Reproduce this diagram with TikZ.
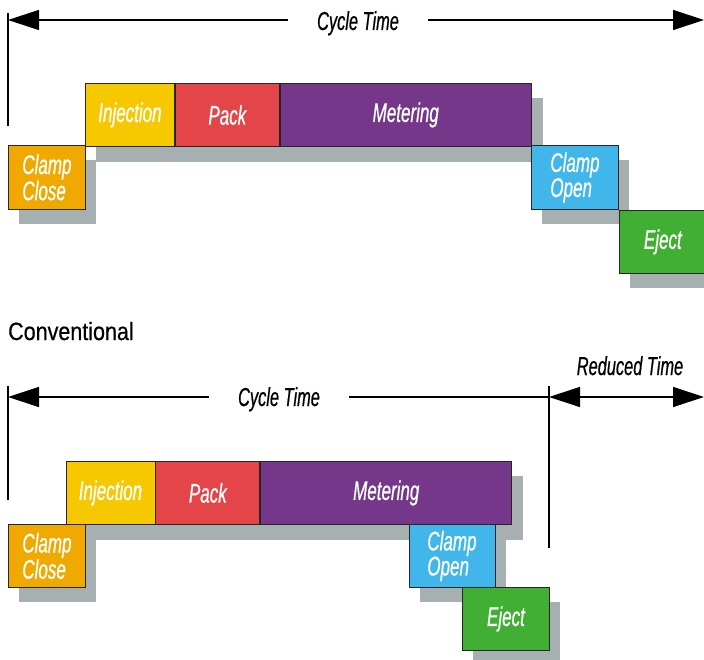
\documentclass[tikz,border=0pt]{standalone}
\usepackage{fontspec}
\setmainfont{Liberation Sans}
\newfontfamily\stagefont{Liberation Sans}[FakeStretch=0.63,FakeBold=0.6]
\newfontfamily\headfont{Liberation Sans}[FakeStretch=0.86,FakeBold=0.5]
\usetikzlibrary{arrows.meta,shadows,backgrounds}

\definecolor{closecol}{HTML}{F0A900}
\definecolor{injcol}{HTML}{F5C800}
\definecolor{packcol}{HTML}{E44548}
\definecolor{metercol}{HTML}{75378A}
\definecolor{opencol}{HTML}{41B6EA}
\definecolor{ejectcol}{HTML}{41AF33}
\definecolor{shadowcol}{HTML}{A6B0B0}

\tikzset{
  stage/.style={draw=black!85, line width=0.9pt, anchor=north west, inner sep=0pt,
    minimum height=63pt, text=white, align=left,
    font=\stagefont\itshape\fontsize{27}{25}\selectfont},
  shadowed/.style={stage,
    drop shadow={shadow xshift=11pt, shadow yshift=-15pt, fill=shadowcol, opacity=1}},
  timelabel/.style={inner xsep=29pt, inner ysep=0pt, text height=18pt, text depth=0pt,
    font=\stagefont\itshape\fontsize{26}{26}\selectfont},
  span/.style={line width=1.2pt, {Triangle[length=31pt,width=20pt]}-{Triangle[length=31pt,width=20pt]}},
  tick/.style={line width=1.2pt}
}

\begin{document}
\begin{tikzpicture}[x=1pt,y=-1pt]
  \useasboundingbox (0,0) rectangle (704,660);

  % improved cycle
  \draw[tick] (8,13) -- (8,126);
  \node[timelabel] (ctop) at (358,21) {Cycle Time};
  \coordinate (ctopL) at (8,20);
  \coordinate (ctopR) at (704,20);
  \draw[line width=1.2pt, {Triangle[length=31pt,width=20pt]}-] (ctopL) -- (ctopL -| ctop.west);
  \draw[line width=1.2pt, -{Triangle[length=31pt,width=20pt]}] (ctopR -| ctop.east) -- (ctopR);

  \node[stage, fill=injcol, minimum width=89pt] (injA) at (85,83) {Injection};
  \node[stage, fill=packcol, minimum width=104pt] (packA) at (injA.north east) {Pack};
  \node[stage, fill=metercol, minimum width=251pt] (meterA) at (packA.north east) {Metering};
  \begin{scope}[on background layer]
    \fill[shadowcol] ([shift={(11,15)}]injA.north west) rectangle ([shift={(11,15)}]meterA.south east);
  \end{scope}
  \node[shadowed, fill=closecol, minimum width=77pt, minimum height=64pt] (closeA) at (8,145) {Clamp\\Close};
  \node[shadowed, fill=opencol, minimum width=87pt, minimum height=64pt] (openA) at (531,145) {Clamp\\Open};
  \node[shadowed, fill=ejectcol, minimum width=87pt] (ejectA) at (openA.south east) {Eject};

  % conventional cycle
  \node[anchor=base west, inner sep=0pt, font=\headfont\fontsize{25}{25}\selectfont] (conv) at (8,340) {Conventional};

  \draw[tick] (8,386) -- (8,500);
  \draw[tick] (549,386) -- (549,548);
  \node[timelabel] (cbot) at (279,397) {Cycle Time};
  \coordinate (cbotL) at (8,397);
  \coordinate (cbotR) at (549,397);
  \coordinate (redR) at (704,397);
  \draw[line width=1.2pt, {Triangle[length=31pt,width=20pt]}-] (cbotL) -- (cbotL -| cbot.west);
  \draw[line width=1.2pt] (cbotR -| cbot.east) -- (cbotR);
  \draw[span] (cbotR) -- (redR);
  \node[timelabel, inner xsep=0pt] (reduced) at (630,366) {Reduced Time};

  \node[stage, fill=injcol, minimum width=89pt] (injB) at (65.5,461) {Injection};
  \node[stage, fill=packcol, minimum width=104pt] (packB) at (injB.north east) {Pack};
  \node[stage, fill=metercol, minimum width=251pt] (meterB) at (packB.north east) {Metering};
  \begin{scope}[on background layer]
    \fill[shadowcol] ([shift={(11,15)}]injB.north west) rectangle ([shift={(11,15)}]meterB.south east);
  \end{scope}
  \node[shadowed, fill=closecol, minimum width=77pt] (closeB) at (8,524) {Clamp\\Close};
  \node[shadowed, fill=opencol, minimum width=86pt] (openB) at (408.5,524) {Clamp\\Open};
  \node[shadowed, fill=ejectcol, minimum width=87pt] (ejectB) at (462,587) {Eject};
\end{tikzpicture}
\end{document}
